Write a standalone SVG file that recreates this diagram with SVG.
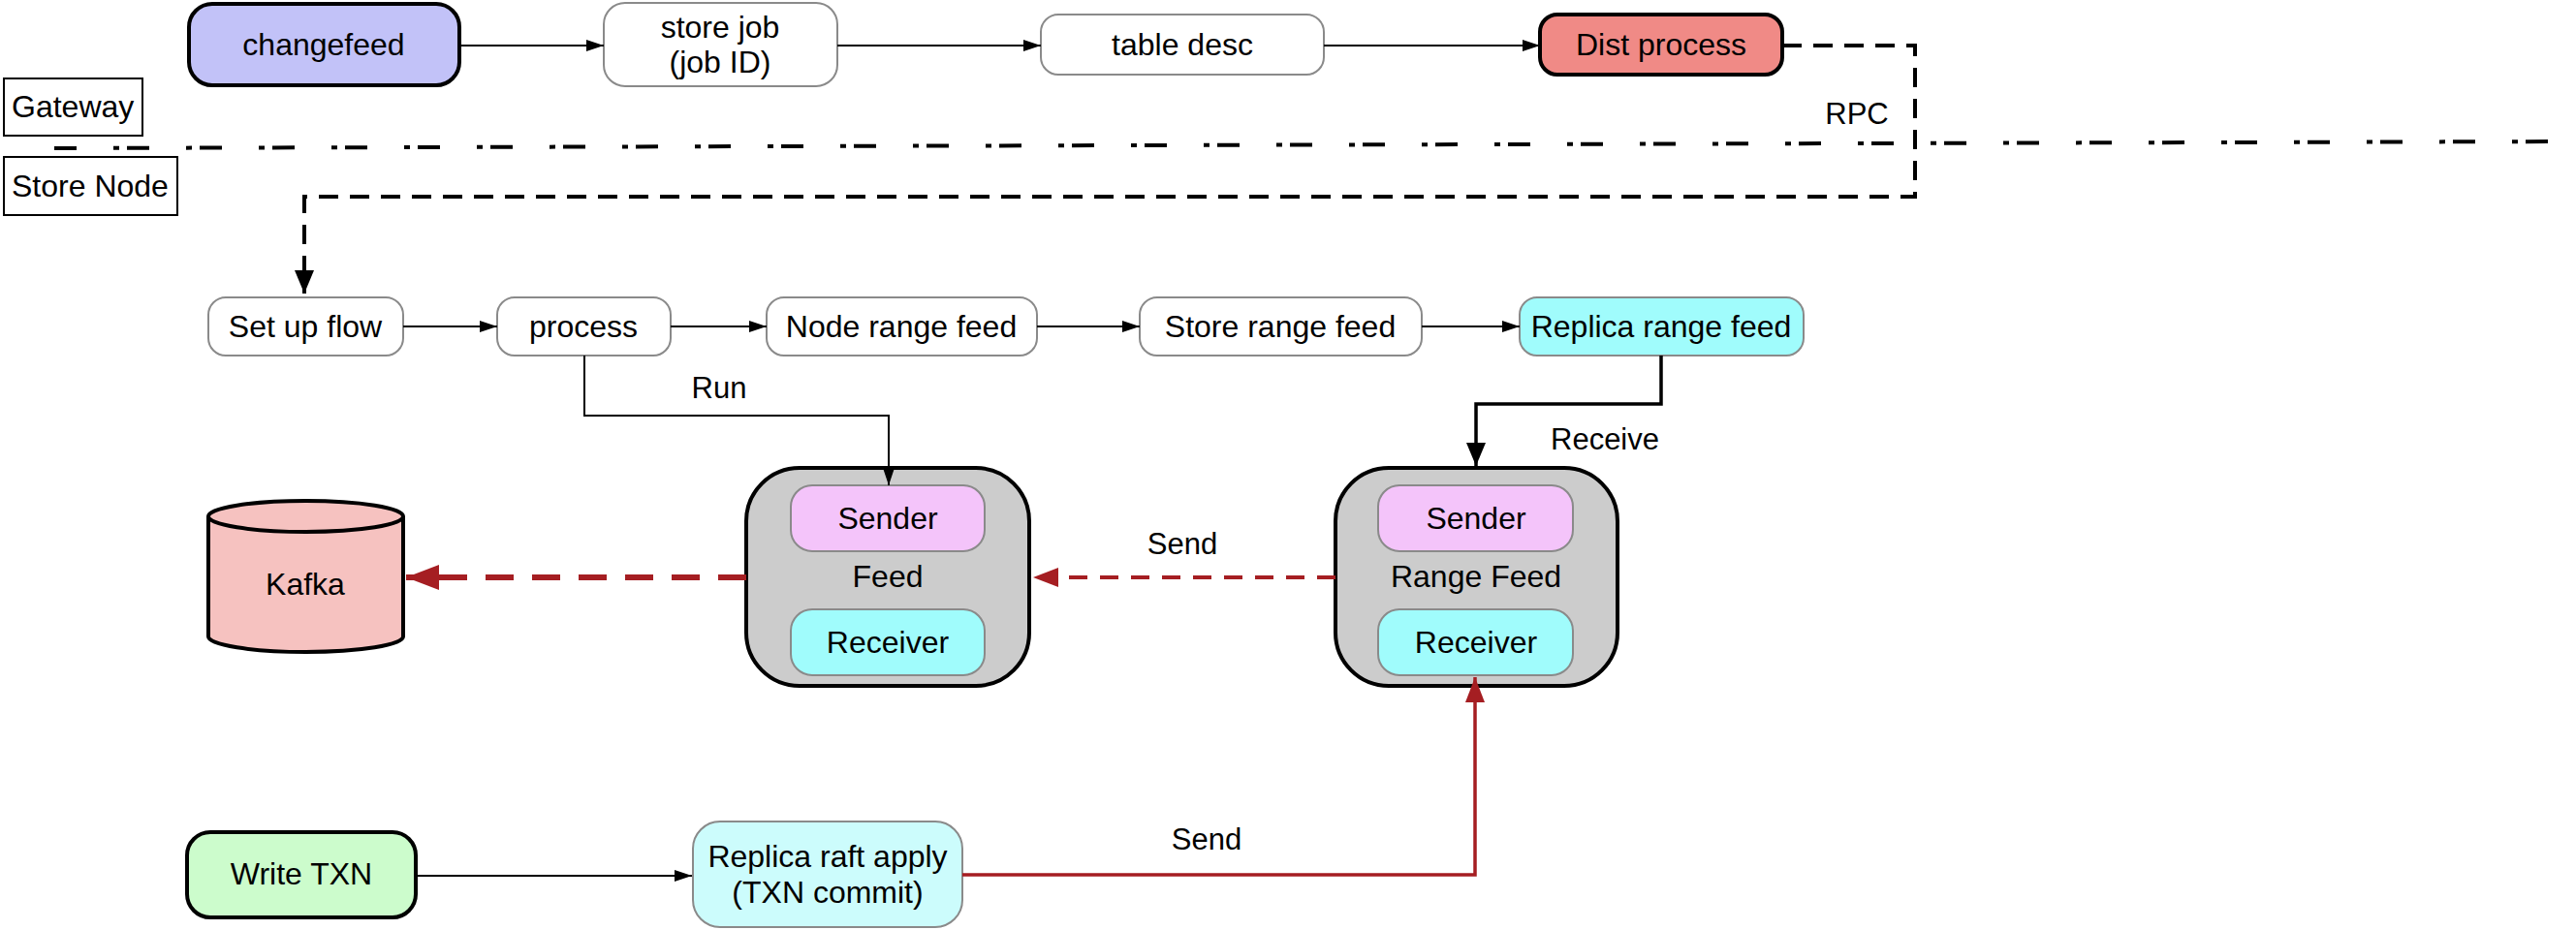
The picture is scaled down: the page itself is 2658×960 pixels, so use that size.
<svg xmlns="http://www.w3.org/2000/svg" width="2658" height="960" viewBox="0 0 2658 960">
<defs>
<style>
text{font-family:"Liberation Sans",Arial,Helvetica,sans-serif;fill:#000}
.n{font-size:32px;text-anchor:middle}
.l{font-size:31px;text-anchor:middle}
.g{stroke:#8a8a8a;stroke-width:2}
.k{stroke:#000;stroke-width:4}
.c{fill:none;stroke:#000;stroke-width:2}
</style>
<marker id="ah" viewBox="0 0 18 12" refX="18" refY="6" markerWidth="18" markerHeight="12" markerUnits="userSpaceOnUse" orient="auto"><path d="M0,0 L18,6 L0,12 Z" fill="#000"/></marker>
<marker id="ahB" viewBox="0 0 24 20" refX="24" refY="10" markerWidth="24" markerHeight="20" markerUnits="userSpaceOnUse" orient="auto"><path d="M0,0 L24,10 L0,20 Z" fill="#000"/></marker>
<marker id="ahRB" viewBox="0 0 34 26" refX="34" refY="13" markerWidth="34" markerHeight="26" markerUnits="userSpaceOnUse" orient="auto"><path d="M0,0 L34,13 L0,26 Z" fill="#a51e22"/></marker>
<marker id="ahR" viewBox="0 0 26 20" refX="26" refY="10" markerWidth="26" markerHeight="20" markerUnits="userSpaceOnUse" orient="auto"><path d="M0,0 L26,10 L0,20 Z" fill="#a51e22"/></marker>
</defs>
<rect width="2658" height="960" fill="#fff"/>

<g id="gateway"><rect x="4" y="81" width="143" height="59" fill="#fff" stroke="#000" stroke-width="2"/><text x="12" y="121" style="font-size:32px">Gateway</text></g>
<g id="storenode"><rect x="4" y="162" width="179" height="60" fill="#fff" stroke="#000" stroke-width="2"/><text x="12" y="203" style="font-size:32px">Store Node</text></g>
<line x1="56" y1="153" x2="2658" y2="146" stroke="#000" stroke-width="4" stroke-dasharray="23 38 6 8"/>

<g id="changefeed"><rect class="k" x="195" y="4" width="279" height="84" rx="24" fill="#c2c2f8"/><text class="n" x="334" y="57">changefeed</text></g>
<g id="storejob"><rect class="g" x="623" y="3" width="241" height="86" rx="22" fill="#fff"/><text class="n" x="743" y="39">store job</text><text class="n" x="743" y="75">(job ID)</text></g>
<g id="tabledesc"><rect class="g" x="1074" y="15" width="292" height="62" rx="18" fill="#fff"/><text class="n" x="1220" y="57">table desc</text></g>
<g id="distprocess"><rect class="k" x="1589" y="15" width="250" height="62" rx="18" fill="#f08a86"/><text class="n" x="1714" y="57">Dist process</text></g>

<g id="setupflow"><rect class="g" x="215" y="307" width="201" height="60" rx="18" fill="#fff"/><text class="n" x="315" y="348">Set up flow</text></g>
<g id="process"><rect class="g" x="513" y="307" width="179" height="60" rx="18" fill="#fff"/><text class="n" x="602" y="348">process</text></g>
<g id="noderangefeed"><rect class="g" x="791" y="307" width="279" height="60" rx="18" fill="#fff"/><text class="n" x="930" y="348">Node range feed</text></g>
<g id="storerangefeed"><rect class="g" x="1176" y="307" width="291" height="60" rx="18" fill="#fff"/><text class="n" x="1321" y="348">Store range feed</text></g>
<g id="replicarangefeed"><rect class="g" x="1568" y="307" width="293" height="60" rx="18" fill="#a0fcfc"/><text class="n" x="1714" y="348">Replica range feed</text></g>

<g id="kafka"><path d="M215,533 A100.5,16 0 0,1 416,533 L416,657 A100.5,16 0 0,1 215,657 Z" fill="#f6c2c0" stroke="#000" stroke-width="4"/><path d="M215,533 A100.5,16 0 0,0 416,533" fill="none" stroke="#000" stroke-width="4"/><text class="n" x="315" y="614">Kafka</text></g>

<g id="feed"><rect class="k" x="770" y="483" width="292" height="225" rx="55" fill="#cccccc"/><text class="n" x="916" y="606">Feed</text>
<rect class="g" x="816" y="501" width="200" height="68" rx="22" fill="#f4c4fa"/><text class="n" x="916" y="546">Sender</text>
<rect class="g" x="816" y="629" width="200" height="68" rx="22" fill="#a0fcfc"/><text class="n" x="916" y="674">Receiver</text></g>

<g id="rangefeed"><rect class="k" x="1378" y="483" width="291" height="225" rx="55" fill="#cccccc"/><text class="n" x="1523" y="606">Range Feed</text>
<rect class="g" x="1422" y="501" width="201" height="68" rx="22" fill="#f4c4fa"/><text class="n" x="1523" y="546">Sender</text>
<rect class="g" x="1422" y="629" width="201" height="68" rx="22" fill="#a0fcfc"/><text class="n" x="1523" y="674">Receiver</text></g>

<g id="writetxn"><rect class="k" x="193" y="859" width="236" height="88" rx="24" fill="#ccfccc"/><text class="n" x="311" y="913">Write TXN</text></g>
<g id="replicaraftapply"><rect class="g" x="715" y="848" width="278" height="109" rx="28" fill="#ccfcfc"/><text class="n" x="854" y="895">Replica raft apply</text><text class="n" x="854" y="932">(TXN commit)</text></g>

<g id="connectors">
<path class="c" d="M474,47 H623" marker-end="url(#ah)"/>
<path class="c" d="M864,47 H1074" marker-end="url(#ah)"/>
<path class="c" d="M1366,47 H1589" marker-end="url(#ah)"/>
<path d="M1839,47 H1976 V203 H314 V303" fill="none" stroke="#000" stroke-width="4" stroke-dasharray="20 12" marker-end="url(#ahB)"/>
<path class="c" d="M416,337 H513" marker-end="url(#ah)"/>
<path class="c" d="M692,337 H791" marker-end="url(#ah)"/>
<path class="c" d="M1070,337 H1176" marker-end="url(#ah)"/>
<path class="c" d="M1467,337 H1568" marker-end="url(#ah)"/>
<path class="c" d="M603,367 V429 H917 V501" marker-end="url(#ah)"/>
<path d="M1714,367 V417 H1523 V481" fill="none" stroke="#000" stroke-width="3.5" marker-end="url(#ahB)"/>
<path d="M770,596 H419" fill="none" stroke="#a51e22" stroke-width="6" stroke-dasharray="29 19" marker-end="url(#ahRB)"/>
<path d="M1378,596 H1066" fill="none" stroke="#a51e22" stroke-width="4" stroke-dasharray="19 13" marker-end="url(#ahR)"/>
<path class="c" d="M429,904 H714" marker-end="url(#ah)"/>
<path d="M993,903 H1522 V699" fill="none" stroke="#a51e22" stroke-width="3.5" marker-end="url(#ahR)"/>
<text class="l" x="1916" y="128">RPC</text>
<text class="l" x="742" y="411">Run</text>
<text class="l" x="1656" y="464">Receive</text>
<text class="l" x="1220" y="572">Send</text>
<text class="l" x="1245" y="877">Send</text>
</g>
</svg>
